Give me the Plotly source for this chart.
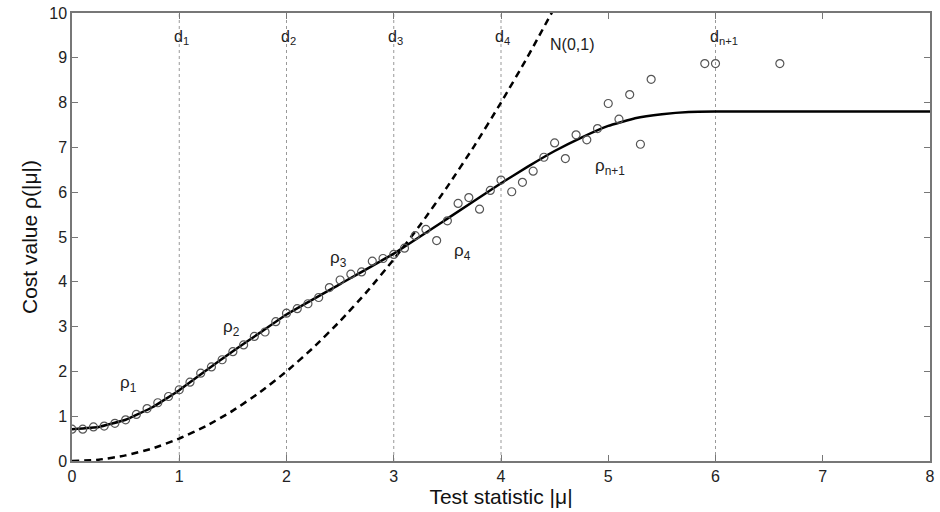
import plotly.graph_objects as go

# Empirical cost values (circles)
emp_x = [0.0, 0.1, 0.2, 0.3, 0.4, 0.5, 0.6, 0.7, 0.8, 0.9,
         1.0, 1.1, 1.2, 1.3, 1.4, 1.5, 1.6, 1.7, 1.8, 1.9,
         2.0, 2.1, 2.2, 2.3, 2.4, 2.5, 2.6, 2.7, 2.8, 2.9,
         3.0, 3.1, 3.2, 3.3, 3.4, 3.5, 3.6, 3.7, 3.8, 3.9,
         4.0, 4.1, 4.2, 4.3, 4.4, 4.5, 4.6, 4.7, 4.8, 4.9,
         5.0, 5.1, 5.2, 5.3, 5.4, 5.9, 6.0, 6.6]
emp_y = [0.71, 0.71, 0.76, 0.78, 0.84, 0.92, 1.04, 1.17, 1.30, 1.44,
         1.59, 1.76, 1.96, 2.10, 2.26, 2.44, 2.59, 2.78, 2.88, 3.11,
         3.30, 3.40, 3.51, 3.65, 3.87, 4.04, 4.17, 4.22, 4.46, 4.52,
         4.61, 4.75, 5.03, 5.17, 4.92, 5.36, 5.75, 5.88, 5.62, 6.04,
         6.27, 6.01, 6.22, 6.47, 6.78, 7.10, 6.75, 7.28, 7.17, 7.42,
         7.98, 7.63, 8.18, 7.07, 8.52, 8.87, 8.87, 8.87]

# Fitted piecewise cost function (solid)
fit_x = [0.0, 0.25, 0.5, 0.75, 1.0, 1.25, 1.5, 1.75, 2.0, 2.5,
         3.0, 3.5, 4.0, 4.25, 4.5, 4.75, 5.0, 5.25, 5.5, 5.75,
         6.0, 8.0]
fit_y = [0.71, 0.76, 0.92, 1.20, 1.58, 2.02, 2.45, 2.86, 3.27, 3.95,
         4.63, 5.41, 6.20, 6.57, 6.92, 7.22, 7.48, 7.65, 7.74, 7.79,
         7.80, 7.80]

# N(0,1) cost (dashed)
norm_x = [0.0, 0.25, 0.5, 0.75, 1.0, 1.25, 1.5, 1.75, 2.0, 2.25, 2.5, 2.75,
          3.0, 3.25, 3.5, 3.75, 4.0, 4.25, 4.5]
norm_y = [0.0, 0.03, 0.125, 0.28, 0.5, 0.78, 1.125, 1.53, 2.0, 2.53, 3.125, 3.78,
          4.5, 5.28, 6.125, 7.03, 8.0, 9.03, 10.125]

# Threshold lines and labels
thr_x = [1, 2, 3, 4, 6]
thr_labels = ["d<sub>1</sub>", "d<sub>2</sub>", "d<sub>3</sub>", "d<sub>4</sub>", "d<sub>n+1</sub>"]

seg_labels = ["ρ<sub>1</sub>", "ρ<sub>2</sub>", "ρ<sub>3</sub>", "ρ<sub>4</sub>", "ρ<sub>n+1</sub>"]
seg_x = [0.43, 1.39, 2.39, 3.54, 4.86]
seg_y = [1.73, 2.97, 4.52, 4.67, 6.56]

x_ticks = [0, 1, 2, 3, 4, 5, 6, 7, 8]
y_ticks = [0, 1, 2, 3, 4, 5, 6, 7, 8, 9, 10]

FONT = "Liberation Sans, Arial, Helvetica, sans-serif"

fig = go.Figure()

for xv in thr_x:
    fig.add_shape(type="line", x0=xv, x1=xv, y0=0, y1=10, xref="x", yref="y",
                  line=dict(color="#999999", width=1, dash="dot"), layer="below")

fig.add_trace(go.Scatter(x=norm_x, y=norm_y, mode="lines",
                         line=dict(color="black", width=2.5, dash="7px,5px", shape="spline",
                                   smoothing=0.5),
                         showlegend=False, hoverinfo="skip"))
fig.add_trace(go.Scatter(x=fit_x, y=fit_y, mode="lines",
                         line=dict(color="black", width=2.5, shape="spline", smoothing=0.3),
                         showlegend=False))
fig.add_trace(go.Scatter(x=emp_x, y=emp_y, mode="markers",
                         marker=dict(symbol="circle-open", size=8, color="#555555",
                                     line=dict(width=1.2)),
                         showlegend=False))

for xv, lab in zip(thr_x, thr_labels):
    fig.add_annotation(x=xv - 0.07, y=9.45, text=lab, showarrow=False,
                       xanchor="left", yanchor="middle",
                       font=dict(size=16, color="#222222", family=FONT))

fig.add_annotation(x=4.44, y=9.29, text="N(0,1)", showarrow=False,
                   xanchor="left", yanchor="middle",
                   font=dict(size=16, color="#222222", family=FONT))

for xv, yv, lab in zip(seg_x, seg_y, seg_labels):
    fig.add_annotation(x=xv, y=yv, text=lab, showarrow=False,
                       xanchor="left", yanchor="middle",
                       font=dict(size=17, color="#222222", family=FONT))

axis_common = dict(showgrid=False, zeroline=False, showline=True, linecolor="#777777",
                   linewidth=1.5, mirror="ticks", ticks="inside", ticklen=6,
                   tickcolor="#777777", tickwidth=1,
                   tickfont=dict(size=16, color="#222222", family=FONT))

fig.update_xaxes(range=[0, 8], tickvals=x_ticks, **axis_common,
                 title=dict(text="Test statistic |μ|", standoff=2,
                            font=dict(size=21, color="#111111", family=FONT)))
fig.update_yaxes(range=[0, 10], tickvals=y_ticks, **axis_common,
                 title=dict(text="Cost value ρ(|μ|)", standoff=6,
                            font=dict(size=21, color="#111111", family=FONT)))

fig.update_layout(width=940, height=512, plot_bgcolor="white", paper_bgcolor="white",
                  margin=dict(l=72, r=5, t=10, b=51))

fig.write_html("out.html", config={"displayModeBar": False},
               post_script="document.body.style.margin='0';")
